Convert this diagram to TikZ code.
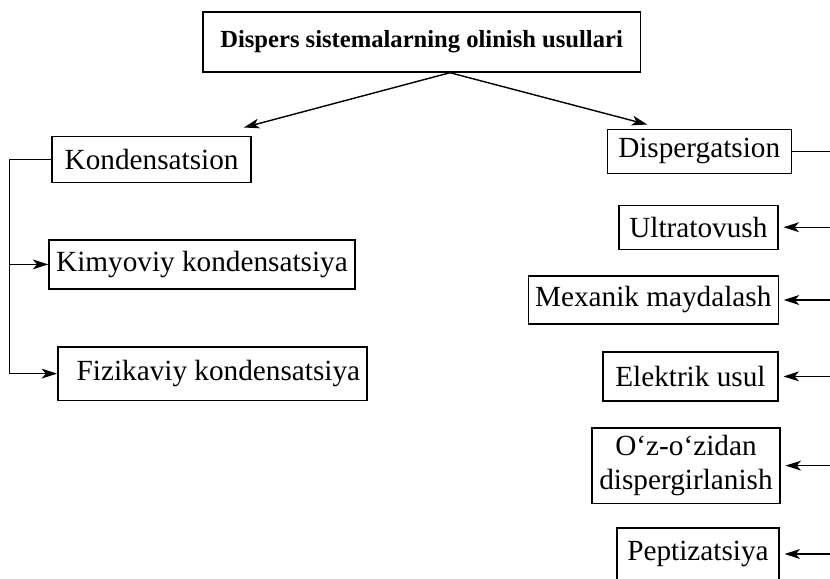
\documentclass[tikz,border=0pt]{standalone}
\usepackage{fontspec}
\setmainfont{Liberation Serif}
\usetikzlibrary{arrows.meta,positioning,calc}

\begin{document}
\begin{tikzpicture}[>={Stealth[length=11pt,width=7pt,inset=3pt]},line width=1pt,
 meth/.style={draw,inner sep=2pt,align=center,font=\fontsize{20.8pt}{24pt}\selectfont},
 head/.style={draw,align=center,font=\fontsize{17.5pt}{20pt}\selectfont\bfseries}]
\useasboundingbox (0,0) rectangle (20.75,-14.45);
\node[head,minimum width=10.93cm,minimum height=1.5cm] (top) at (10.54,-1.05) {Dispers sistemalarning olinish usullari};
\node[meth,minimum width=4.98cm,minimum height=1.15cm] (kond) at (3.79,-3.98) {Kondensatsion};
\node[meth,minimum width=7.65cm,minimum height=1.23cm] (kim) at (5.05,-6.61) {Kimyoviy kondensatsiya};
\node[meth,minimum width=7.73cm,minimum height=1.33cm] (fiz) at (5.31,-9.34) {\hspace{0.3cm}Fizikaviy kondensatsiya};
\node[meth,minimum width=4.6cm,minimum height=1.1cm] (disp) at (17.48,-3.78) {Dispergatsion};
\node[meth,minimum width=3.98cm,minimum height=1.1cm] (ultra) at (17.46,-5.68) {Ultratovush};
\node[meth,minimum width=6.25cm,minimum height=1.2cm] (mex) at (16.33,-7.5) {Mexanik maydalash};
\node[meth,minimum width=4.38cm,minimum height=1.23cm] (elek) at (17.26,-9.41) {Elektrik usul};
\node[meth,minimum width=4.7cm,minimum height=1.88cm] (oz) at (17.15,-11.64) {O‘z-o‘zidan\\dispergirlanish};
\node[meth,minimum width=4.05cm,minimum height=1.3cm] (pept) at (17.45,-13.85) {Peptizatsiya};
% top splits in two
\draw[->] ([xshift=0.71cm]top.south) -- ([shift={(-0.2,0.2)}]kond.north east);
\draw[->] ([xshift=0.71cm]top.south) -- ([shift={(-1.3,0.1)}]disp.north);
% left branch
\draw (kond.west) -- ++(-1.05,0) coordinate (lt);
\draw[->] (lt) |- (kim.west);
\draw[->] (lt) |- (fiz.west);
% right branch, trunk runs along the edge
\coordinate (rt) at (20.75,0);
\draw (disp.east) -- (disp.east -| rt);
\foreach \n in {ultra,mex,elek,oz,pept}
  \draw[->] (\n.east -| rt) -- ([xshift=0.12cm]\n.east);
\end{tikzpicture}
\end{document}
